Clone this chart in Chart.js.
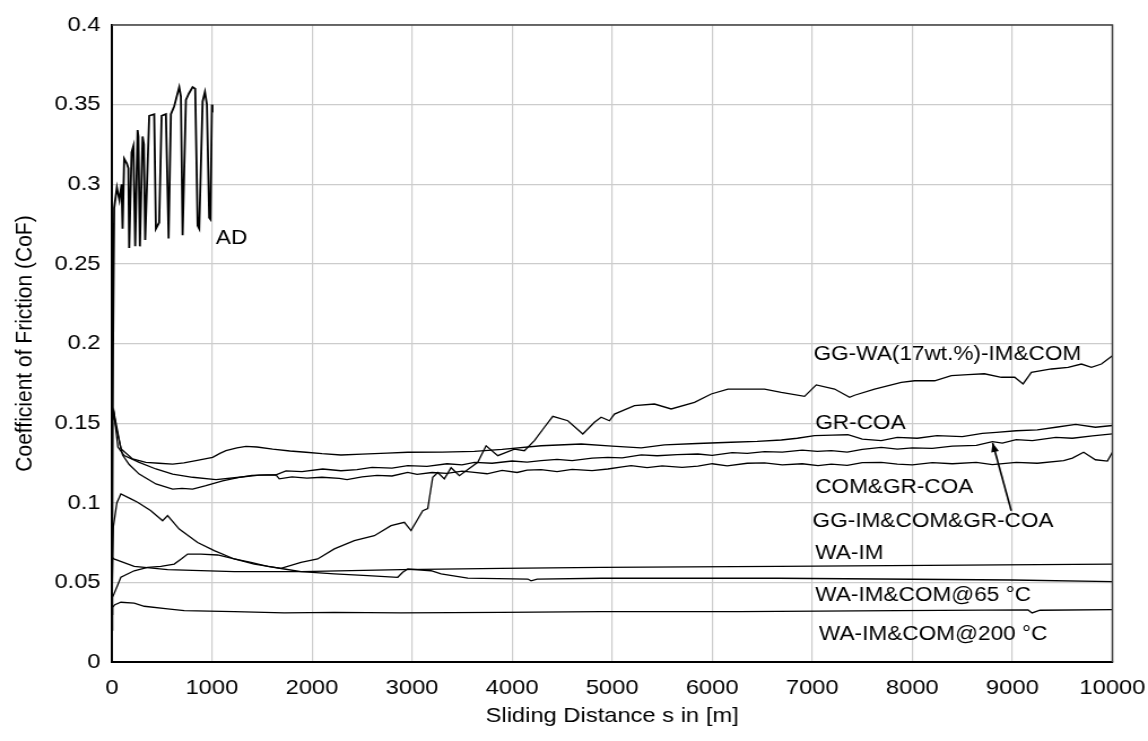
<!DOCTYPE html>
<html><head><meta charset="utf-8">
<script src="https://cdn.jsdelivr.net/npm/chart.js@4.4.0/dist/chart.umd.min.js"></script>
<style>
html,body{margin:0;padding:0;background:#fff;overflow:hidden;}
#wrap{width:1016px;height:741px;transform:scaleX(1.12992);transform-origin:0 0;}
canvas{display:block;}
</style></head><body>
<div id="wrap"><canvas id="c" width="1016" height="741"></canvas></div>
<script>
// ---- tick labels ----
const xTickLabels = ['0','1000','2000','3000','4000','5000','6000','7000','8000','9000','10000'];
const yTickLabels = ['0','0.05','0.1','0.15','0.2','0.25','0.3','0.35','0.4'];

// ---- series names ----
const seriesNames = ['AD','GG-WA(17wt.%)-IM&COM','GR-COA','COM&GR-COA','GG-IM&COM&GR-COA','WA-IM','WA-IM&COM@65 °C','WA-IM&COM@200 °C'];

// ---- AD ----
const adX = [0,12,23,50,75,97,107,123,150,165,173,197,215,233,257,265,280,307,320,333,373,423,440,473,497,540,567,590,623,673,690,707,740,770,807,833,857,873,907,930,950,973,985,1000,1005];
const adY = [0.02,0.2,0.285,0.298,0.29,0.3,0.272,0.316,0.313,0.31,0.26,0.32,0.324,0.261,0.334,0.33,0.261,0.33,0.325,0.265,0.343,0.344,0.272,0.276,0.343,0.344,0.266,0.344,0.349,0.361,0.355,0.268,0.353,0.357,0.361,0.36,0.274,0.272,0.352,0.358,0.35,0.279,0.278,0.35,0.345];

// ---- GG-WA(17wt.%)-IM&COM ----
const ggwaX = [0,15,50,90,190,257,390,507,557,673,857,1023,1223,1423,1690,1890,2057,2223,2423,2623,2790,2923,2990,3107,3157,3207,3257,3323,3390,3473,3657,3740,3857,4023,4123,4223,4323,4407,4557,4707,4823,4890,4973,5023,5223,5423,5590,5823,5990,6157,6523,6690,6923,7040,7223,7373,7423,7623,7890,8023,8223,8390,8557,8720,8890,9023,9107,9190,9390,9557,9690,9790,9890,10000];
const ggwaY = [0.035,0.085,0.1,0.1055,0.1024,0.1003,0.095,0.0887,0.0919,0.0835,0.075,0.0699,0.0647,0.0615,0.0588,0.0626,0.0647,0.071,0.0762,0.0793,0.0856,0.0877,0.0825,0.095,0.0963,0.116,0.119,0.115,0.122,0.117,0.1254,0.1358,0.1296,0.1337,0.1327,0.139,0.1474,0.1543,0.1515,0.1432,0.1505,0.1537,0.1515,0.1557,0.161,0.162,0.1589,0.163,0.1683,0.1714,0.1714,0.1693,0.1668,0.174,0.1714,0.1662,0.1675,0.1714,0.1756,0.1766,0.1766,0.1798,0.1805,0.181,0.1788,0.1788,0.1746,0.1819,0.184,0.185,0.1871,0.185,0.1871,0.1923];

// ---- GR-COA ----
const grX = [0,20,90,207,340,470,607,720,840,1007,1080,1140,1250,1340,1450,1607,1780,1940,2100,2290,2500,2750,2957,3300,3623,3900,4290,4690,5000,5290,5523,5850,6190,6450,6690,6850,7023,7200,7357,7500,7690,7850,8050,8246,8500,8700,8840,9038,9250,9434,9633,9830,10000];
const grY = [0.150,0.157,0.134,0.1275,0.1254,0.1248,0.1243,0.125,0.1264,0.1285,0.131,0.1327,0.1345,0.1354,0.135,0.1337,0.1325,0.1317,0.1308,0.130,0.1305,0.1312,0.1317,0.1318,0.1323,0.1335,0.1358,0.1369,0.1355,0.1345,0.1363,0.1372,0.138,0.1385,0.1394,0.1405,0.1421,0.1425,0.1427,0.140,0.139,0.141,0.1405,0.1421,0.1415,0.1435,0.1442,0.1452,0.1458,0.1474,0.1492,0.1474,0.1485];

// ---- COM&GR-COA ----
const comX = [0,20,60,123,273,440,607,807,1040,1273,1473,1640,1673,1800,1950,2100,2273,2350,2500,2650,2800,2957,3050,3200,3350,3500,3623,3750,3900,4050,4150,4290,4450,4600,4800,4957,5100,5190,5350,5500,5700,5857,6000,6150,6350,6523,6700,6900,7058,7190,7350,7500,7690,7850,8000,8200,8400,8640,8800,9038,9250,9513,9600,9712,9830,9950,10000];
const comY = [0.150,0.157,0.135,0.1296,0.1254,0.1212,0.118,0.116,0.1145,0.116,0.1174,0.1175,0.115,0.1162,0.1155,0.116,0.1153,0.1145,0.1162,0.1172,0.1168,0.1191,0.1178,0.119,0.1185,0.1198,0.1191,0.1182,0.1203,0.119,0.1205,0.1208,0.1195,0.121,0.1202,0.1212,0.1225,0.1233,0.122,0.1232,0.1222,0.123,0.1245,0.1232,0.1248,0.125,0.1238,0.1245,0.1233,0.1243,0.1235,0.1252,0.1254,0.1243,0.1238,0.1252,0.1245,0.1254,0.124,0.1254,0.1248,0.1264,0.128,0.1317,0.127,0.1262,0.1317];

// ---- GG-IM&COM&GR-COA ----
const ggimX = [0,20,40,107,173,273,440,607,700,807,940,1107,1273,1400,1550,1640,1740,1900,2107,2290,2450,2600,2800,2957,3150,3350,3500,3623,3800,4000,4150,4290,4450,4600,4800,4957,5100,5290,5450,5650,5857,6000,6200,6350,6523,6700,6900,7050,7190,7350,7500,7690,7850,8000,8200,8400,8640,8801,8900,9038,9200,9434,9600,9800,10000];
const ggimY = [0.150,0.156,0.148,0.13,0.124,0.118,0.1118,0.1086,0.109,0.1086,0.1107,0.1138,0.116,0.1172,0.1175,0.1175,0.120,0.1195,0.1212,0.1201,0.1208,0.1222,0.1218,0.1233,0.1228,0.1245,0.1238,0.1254,0.1248,0.1262,0.1255,0.1264,0.1272,0.1265,0.128,0.1285,0.1282,0.130,0.1295,0.1302,0.1306,0.1298,0.1315,0.131,0.1321,0.1318,0.133,0.1322,0.1327,0.1318,0.1335,0.1348,0.1337,0.1345,0.1342,0.1355,0.136,0.1384,0.1375,0.1396,0.139,0.141,0.1405,0.142,0.1432];

// ---- WA-IM ----
const waimX = [0,20,223,557,1223,1890,2890,3890,4890,6662,10000];
const waimY = [0.066,0.0647,0.0601,0.058,0.0567,0.0567,0.058,0.0588,0.0594,0.0601,0.0615];

// ---- WA-IM&COM@65 °C ----
const wa65X = [0,7,90,223,357,490,623,700,757,890,1057,1223,1390,1557,1723,1890,2223,2557,2857,2907,2957,3190,3290,3557,4157,4190,4250,4890,6662,9000,10000];
const wa65Y = [0.03,0.0406,0.0532,0.0573,0.0594,0.0601,0.0615,0.065,0.0678,0.0678,0.0672,0.0647,0.0626,0.0601,0.0584,0.0567,0.0553,0.0542,0.0532,0.0563,0.0584,0.0573,0.0553,0.0527,0.0521,0.051,0.052,0.0526,0.0526,0.0515,0.0505];

// ---- WA-IM&COM@200 °C ----
const wa200X = [0,7,30,90,223,323,557,723,1223,1723,2223,2890,3890,4890,6266,7850,9157,9197,9276,10000];
const wa200Y = [0.02,0.0343,0.036,0.0375,0.037,0.035,0.0333,0.0322,0.0316,0.0308,0.0312,0.0308,0.0312,0.0316,0.0316,0.0322,0.0327,0.0308,0.0325,0.0329];

const pts = (xs, ys) => xs.map((v, i) => ({x: v, y: ys[i]}));
const seriesData = [
  pts(adX, adY), pts(ggwaX, ggwaY), pts(grX, grY), pts(comX, comY),
  pts(ggimX, ggimY), pts(waimX, waimY), pts(wa65X, wa65Y), pts(wa200X, wa200Y)
];

const FONT = '"Liberation Sans", Arial, sans-serif';

const labelPlugin = {
  id: 'seriesLabels',
  afterDatasetsDraw(chart) {
    const {ctx, scales: {x, y}, chartArea: a} = chart;
    // label anchor (data coordinates)
    const anchors = [
      [1040, 0.2660], [7013, 0.1934], [7030, 0.1500], [7029, 0.1095],
      [7003, 0.0883], [7030, 0.0680], [7030, 0.0420], [7068, 0.0170]
    ];
    ctx.save();
    ctx.font = '20px ' + FONT;
    ctx.fillStyle = '#000';
    ctx.textBaseline = 'middle';
    ctx.textAlign = 'left';
    seriesNames.forEach((t, i) => {
      ctx.fillText(t, x.getPixelForValue(anchors[i][0]), y.getPixelForValue(anchors[i][1]));
    });
    // arrow from GG-IM&COM&GR-COA label to its curve
    const x0 = x.getPixelForValue(8989), y0 = y.getPixelForValue(0.095);
    const x1 = x.getPixelForValue(8803), y1 = y.getPixelForValue(0.1375);
    ctx.strokeStyle = '#000';
    ctx.lineWidth = 1.6;
    ctx.beginPath(); ctx.moveTo(x0, y0); ctx.lineTo(x1, y1); ctx.stroke();
    const ang = Math.atan2(y1 - y0, x1 - x0), L = 9, W = 3.5;
    ctx.beginPath();
    ctx.moveTo(x1, y1);
    ctx.lineTo(x1 - L * Math.cos(ang) + W * Math.sin(ang), y1 - L * Math.sin(ang) - W * Math.cos(ang));
    ctx.lineTo(x1 - L * Math.cos(ang) - W * Math.sin(ang), y1 - L * Math.sin(ang) + W * Math.cos(ang));
    ctx.closePath(); ctx.fillStyle = '#000'; ctx.fill();
    // top / right frame
    ctx.strokeStyle = '#404040';
    ctx.lineWidth = 1.5;
    ctx.beginPath();
    ctx.moveTo(a.left, a.top); ctx.lineTo(a.right, a.top); ctx.lineTo(a.right, a.bottom);
    ctx.stroke();
    ctx.restore();
  }
};

new Chart(document.getElementById('c'), {
  type: 'line',
  data: {
    datasets: seriesData.map((d, i) => ({
      label: seriesNames[i],
      data: d,
      borderColor: '#000',
      borderWidth: i === 0 ? 1.8 : 1.3,
      pointRadius: 0,
      tension: 0,
      fill: false
    }))
  },
  options: {
    responsive: false,
    animation: false,
    devicePixelRatio: 1,
    layout: {padding: {top: 25, right: 31.5, left: 0, bottom: 0}},
    plugins: {legend: {display: false}, tooltip: {enabled: false}},
    scales: {
      x: {
        type: 'linear', min: 0, max: 10000,
        afterFit: s => { s.height = 79; s.paddingLeft = 0; s.paddingRight = 0; },
        ticks: {
          stepSize: 1000, padding: 14, color: '#000', maxRotation: 0,
          font: {family: FONT, size: 21},
          callback: (v) => xTickLabels[Math.round(v / 1000)] ?? ''
        },
        grid: {color: '#cccccc', lineWidth: 1.2, drawTicks: false},
        border: {color: '#000', width: 2},
        title: {display: true, text: 'Sliding Distance s in [m]', color: '#000',
                font: {family: FONT, size: 21}, padding: {top: 0, bottom: 12}}
      },
      y: {
        type: 'linear', min: 0, max: 0.4,
        afterFit: s => { s.width = 99; s.paddingTop = 0; s.paddingBottom = 0; },
        ticks: {
          stepSize: 0.05, padding: 10, color: '#000',
          font: {family: FONT, size: 21},
          callback: (v) => yTickLabels[Math.round(v / 0.05)] ?? ''
        },
        grid: {color: '#cccccc', lineWidth: 1.2, drawTicks: false},
        border: {color: '#000', width: 2},
        title: {display: true, text: 'Coefficient of Friction (CoF)', color: '#000',
                font: {family: FONT, size: 21}, padding: {top: 10, bottom: 0}}
      }
    }
  },
  plugins: [labelPlugin]
});
</script>
</body></html>
